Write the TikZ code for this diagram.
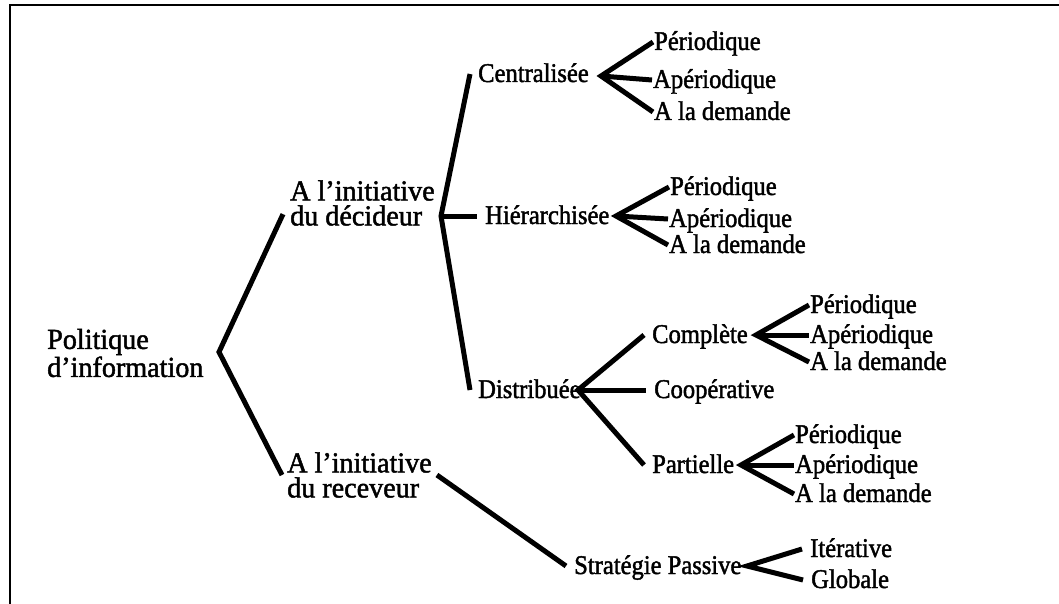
\documentclass[tikz,border=0pt]{standalone}
\usepackage{fontspec}
\setmainfont{Liberation Serif}
\newfontfamily\headfont{Liberation Serif}[FakeStretch=0.97, FakeBold=1.6]
\newfontfamily\itemfont{Liberation Serif}[FakeStretch=0.91, FakeBold=1.6]
\begin{document}
\begin{tikzpicture}[x=1pt,y=-1pt,
  link/.style={line width=5pt, line join=miter},
  frameline/.style={line width=2.5pt},
  txt/.style={anchor=west, inner ysep=1pt, font={\itemfont\fontsize{27}{27}\selectfont},
    text height=17pt, text depth=1pt},
  leaf/.style={txt, inner xsep=1pt},
  branch/.style={txt, inner xsep=8pt},
  head/.style={anchor=west, align=left, inner ysep=1pt},
]
\useasboundingbox (0,0) rectangle (1059,604);

% frame (top and left edges)
\draw[frameline] (10,604) -- (10,5) -- (1059,5);

% root and first level
\node[head, font={\headfont\fontsize{29}{28}\selectfont}, inner xsep=3pt] (pol) at (44,353) {Politique\\d’information};
\node[head, font={\headfont\fontsize{29}{25}\selectfont}, inner xsep=7pt] (dec) at (283,203) {A l’initiative\\du décideur};
\node[head, font={\headfont\fontsize{29}{25}\selectfont}, inner xsep=5pt] (rec) at (282,475) {A l’initiative\\du receveur};

% fork points
\coordinate (fpol) at (219,352);
\coordinate (fdec) at (441,216);
\coordinate (fcen) at (601,76);
\coordinate (fhie) at (616,216);
\coordinate (fdis) at (578,390);
\coordinate (fcom) at (756,335);
\coordinate (fpar) at (741,465);
\coordinate (fstr) at (747,566);

% second level
\node[branch] (cen) at (470,74) {Centralisée};
\node[branch] (hie) at (477,216) {Hiérarchisée};
\node[branch] (dis) at (470,390) {Distribuée};
\node[branch] (str) at (566,566) {Stratégie Passive};

% third level
\node[branch] (com) at (644,335) {Complète};
\node[branch] (coo) at (646,390) {Coopérative};
\node[branch] (par) at (644,465) {Partielle};
\node[branch] (ite) at (802,549) {Itérative};
\node[branch] (glo) at (803,580) {Globale};

% leaves
\node[leaf] (cp) at (653,42) {Périodique};
\node[leaf] (ca) at (652,80) {Apériodique};
\node[leaf] (cd) at (653,112) {A la demande};
\node[leaf] (hp) at (669,187) {Périodique};
\node[leaf] (ha) at (668,219) {Apériodique};
\node[leaf] (hd) at (668,245) {A la demande};
\node[leaf] (kp) at (809,305) {Périodique};
\node[leaf] (ka) at (809,335) {Apériodique};
\node[leaf] (kd) at (809,362) {A la demande};
\node[leaf] (pp) at (794,435) {Périodique};
\node[leaf] (pa) at (794,465) {Apériodique};
\node[leaf] (pd) at (794,494) {A la demande};

% connectors
\draw[link] (dec.188) -- (fpol) -- (rec.west);
\draw[link] (cen.west) -- (fdec) -- (dis.west);
\draw[link] (fdec) -- (hie.west);
\draw[link] (rec.east) -- (str.west);

\draw[link] (cp.west) -- (fcen) -- (cd.west);
\draw[link] (fcen) -- (ca.west);
\draw[link] (hp.west) -- (fhie) -- (hd.west);
\draw[link] (fhie) -- (ha.west);

\draw[link] (com.west) -- (fdis) -- (par.west);
\draw[link] (fdis) -- (coo.west);

\draw[link] (kp.west) -- (fcom) -- (kd.west);
\draw[link] (fcom) -- (ka.west);
\draw[link] (pp.west) -- (fpar) -- (pd.west);
\draw[link] (fpar) -- (pa.west);

\draw[link] (ite.west) -- (fstr) -- (glo.west);
\end{tikzpicture}
\end{document}
